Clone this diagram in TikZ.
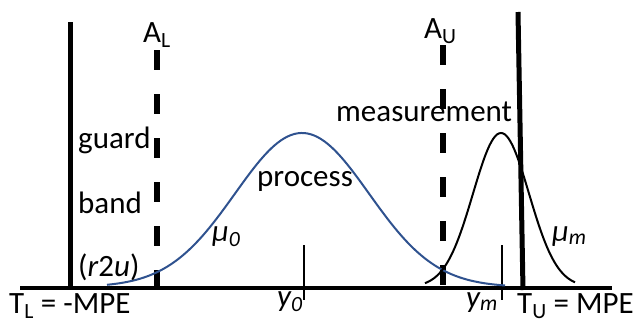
\documentclass[tikz,border=0pt]{standalone}
\usepackage{fontspec}
\setmainfont{Carlito}
\definecolor{procblue}{RGB}{47,82,143}
\begin{document}
\begin{tikzpicture}[x=1pt,y=-1pt,
  lbl/.style={anchor=base west,inner sep=0pt,font=\fontsize{31}{36}\selectfont},
  thick line/.style={line width=5pt},
  limit/.style={line width=6pt,dash pattern=on 20pt off 24pt},
  tick/.style={line width=1.5pt},
  curve/.style={line width=2pt,smooth}]
\useasboundingbox (0,0) rectangle (635,325);
% axis and lines
\coordinate (axL) at (20,288);
\coordinate (axR) at (612,288);
\draw[line width=4.5pt] (axL) -- (axR);
\coordinate (TLt) at (70,22); \coordinate (TLb) at (70,290);
\draw[thick line] (TLt) -- (TLb);
\coordinate (TUt) at (518,12); \coordinate (TUb) at (523,290);
\draw[thick line] (TUt) -- (TUb);
\coordinate (ALt) at (157,50); \coordinate (ALb) at (157,288);
\draw[limit] (ALt) -- (ALb);
\coordinate (AUt) at (443,45); \coordinate (AUb) at (443,288);
\draw[limit] (AUt) -- (AUb);
\coordinate (y0t) at (304,245); \coordinate (y0b) at (304,300);
\draw[tick] (y0t) -- (y0b);
\coordinate (ymt) at (502,245); \coordinate (ymb) at (502,300);
\draw[tick] (ymt) -- (ymb);
% curves
\draw[curve,procblue,domain=107:505,samples=120] plot (\x,{287-154*exp(-0.5*((\x-302)/67)^2)});
\draw[curve,black,domain=425:575,samples=80] plot (\x,{287-154*exp(-0.5*((\x-501)/28)^2)});
% labels
\node[lbl] (AL) at (143,42) {A\textsubscript{L}};
\node[lbl] (AU) at (424,38) {A\textsubscript{U}};
\node[lbl] (guard) at (78,148) {guard};
\node[lbl] (band) at (78,213) {band};
\node[lbl] (r2u) at (78,276) {(\textit{r}2\textit{u})};
\node[lbl] (process) at (257,186) {process};
\node[lbl] (meas) at (336,121) {measurement};
\node[lbl] (mu0) at (212,241) {\textit{μ\textsubscript{0}}};
\node[lbl] (mum) at (552,241) {\textit{μ\textsubscript{m}}};
\node[lbl] (y0) at (277,306) {\textit{y\textsubscript{0}}};
\node[lbl] (ym) at (466,307) {\textit{y\textsubscript{m}}};
\node[lbl] (TL) at (9,313) {T\textsubscript{L} = -MPE};
\node[lbl] (TU) at (517,313) {T\textsubscript{U} = MPE};
\end{tikzpicture}
\end{document}
